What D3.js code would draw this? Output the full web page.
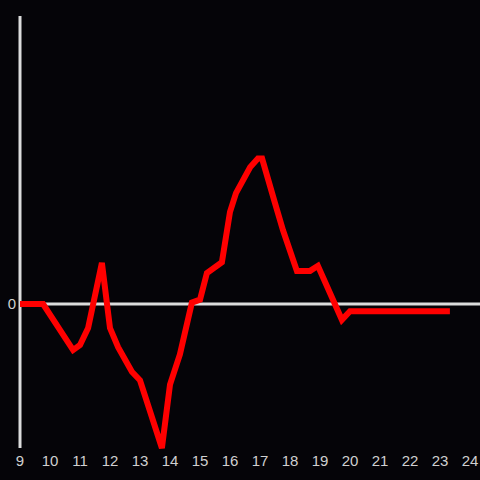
<!DOCTYPE html>
<html>
<head>
<meta charset="utf-8">
<script src="https://cdn.jsdelivr.net/npm/d3@7"></script>
<style>
  html, body { margin: 0; padding: 0; background: #050408; }
  svg { display: block; }
</style>
</head>
<body>
<svg id="chart"></svg>
<script>
// hour of day and value
const hours = [9.0, 9.77, 10.77, 11.0, 11.27, 11.73, 12.0, 12.27, 12.73, 13.0, 13.73, 14.0, 14.33,
    14.73, 15.0, 15.23, 15.73, 16.0, 16.2, 16.67, 16.93, 17.07, 17.5, 17.77, 18.23, 18.67, 18.93,
    19.73, 20.0, 23.33];
const values = [0, 0, -0.32, -0.285, -0.167, 0.285, -0.167, -0.30, -0.47, -0.53, -1.0, -0.56, -0.35,
    0.01, 0.03, 0.215, 0.29, 0.64, 0.77, 0.95, 1.01, 1.01, 0.70, 0.51, 0.23, 0.23, 0.265,
    -0.11, -0.05, -0.05];
const xTicks = d3.range(9, 25);
const yTicks = [0];

const width = 480, height = 480;
const svg = d3.select("#chart")
    .attr("width", width)
    .attr("height", height);

svg.append("rect")
    .attr("width", width)
    .attr("height", height)
    .attr("fill", "#050408");

const x = d3.scaleLinear()
    .domain([9, 24])
    .range([20, 470]);

const y = d3.scaleLinear()
    .domain([-1, 2])
    .range([448, 16]);

// y axis line
svg.append("line")
    .attr("x1", x(9)).attr("x2", x(9))
    .attr("y1", y(2)).attr("y2", y(-1))
    .attr("stroke", "#dcdcdc")
    .attr("stroke-width", 3);

// zero line
svg.append("line")
    .attr("x1", x(9)).attr("x2", width)
    .attr("y1", y(0)).attr("y2", y(0))
    .attr("stroke", "#dcdcdc")
    .attr("stroke-width", 3);

svg.append("g")
    .selectAll("text")
    .data(xTicks)
    .join("text")
    .attr("x", d => x(d))
    .attr("y", 466)
    .attr("text-anchor", "middle")
    .attr("fill", "#d0d0d0")
    .attr("font-family", "Liberation Sans, Arial, sans-serif")
    .attr("font-size", 15)
    .text(d => d);

svg.append("g")
    .selectAll("text")
    .data(yTicks)
    .join("text")
    .attr("x", 16)
    .attr("y", y(0) + 5)
    .attr("text-anchor", "end")
    .attr("fill", "#d0d0d0")
    .attr("font-family", "Liberation Sans, Arial, sans-serif")
    .attr("font-size", 15)
    .text(d => d);

const line = d3.line()
    .x((d, i) => x(hours[i]))
    .y(d => y(d));

svg.append("path")
    .datum(values)
    .attr("d", line)
    .attr("fill", "none")
    .attr("stroke", "#ff0000")
    .attr("stroke-width", 6)
    .attr("stroke-linejoin", "miter")
    .attr("stroke-linecap", "butt");
</script>
</body>
</html>
